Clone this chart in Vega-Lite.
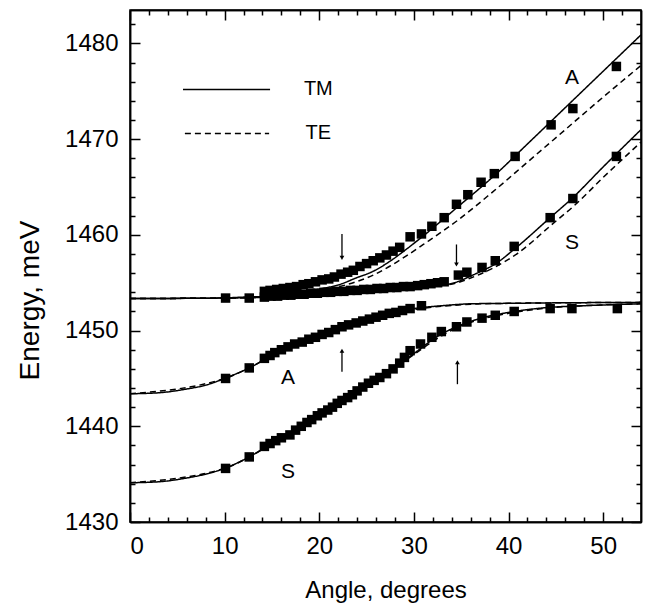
{
  "$schema": "https://vega.github.io/schema/vega-lite/v6.json",
  "width": 511,
  "height": 512,
  "autosize": "none",
  "padding": {"left": 130, "top": 10, "right": 8, "bottom": 88},
  "background": "white",
  "config": {
    "view": {"stroke": "black", "strokeWidth": 1.5},
    "axis": {
      "grid": false,
      "domainColor": "black",
      "domainWidth": 1.5,
      "tickColor": "black",
      "tickWidth": 1.5,
      "labelColor": "black",
      "labelFont": "Liberation Sans",
      "labelFontSize": 24,
      "titleFont": "Liberation Sans",
      "titleFontSize": 24,
      "titleFontWeight": "normal",
      "titleColor": "black"
    }
  },
  "datasets": {
    "pts": [
      {"branch": "upper", "angle": 10.1, "energy": 1453.4},
      {"branch": "upper", "angle": 12.6, "energy": 1453.4},
      {"branch": "UA", "angle": 14.2, "energy": 1454.1},
      {"branch": "UA", "angle": 14.8, "energy": 1454.2},
      {"branch": "UA", "angle": 15.5, "energy": 1454.3},
      {"branch": "UA", "angle": 16.2, "energy": 1454.4},
      {"branch": "UA", "angle": 16.9, "energy": 1454.5},
      {"branch": "UA", "angle": 17.6, "energy": 1454.6},
      {"branch": "UA", "angle": 18.3, "energy": 1454.8},
      {"branch": "UA", "angle": 18.9, "energy": 1454.9},
      {"branch": "UA", "angle": 19.6, "energy": 1455.1},
      {"branch": "UA", "angle": 20.3, "energy": 1455.3},
      {"branch": "UA", "angle": 21.0, "energy": 1455.4},
      {"branch": "UA", "angle": 21.6, "energy": 1455.6},
      {"branch": "UA", "angle": 22.3, "energy": 1455.9},
      {"branch": "UA", "angle": 23.0, "energy": 1456.1},
      {"branch": "UA", "angle": 23.6, "energy": 1456.3},
      {"branch": "UA", "angle": 24.3, "energy": 1456.7},
      {"branch": "UA", "angle": 25.0, "energy": 1457.0},
      {"branch": "UA", "angle": 25.7, "energy": 1457.3},
      {"branch": "UA", "angle": 26.4, "energy": 1457.6},
      {"branch": "UA", "angle": 27.1, "energy": 1457.9},
      {"branch": "UA", "angle": 27.8, "energy": 1458.3},
      {"branch": "UA", "angle": 28.5, "energy": 1458.7},
      {"branch": "UA", "angle": 29.6, "energy": 1459.8},
      {"branch": "UA", "angle": 30.8, "energy": 1460.1},
      {"branch": "UA", "angle": 31.9, "energy": 1460.9},
      {"branch": "UA", "angle": 33.2, "energy": 1461.8},
      {"branch": "UA", "angle": 34.5, "energy": 1463.2},
      {"branch": "UA", "angle": 35.7, "energy": 1464.2},
      {"branch": "UA", "angle": 37.1, "energy": 1465.5},
      {"branch": "UA", "angle": 38.5, "energy": 1466.4},
      {"branch": "UA", "angle": 40.7, "energy": 1468.2},
      {"branch": "UA", "angle": 44.5, "energy": 1471.5},
      {"branch": "UA", "angle": 46.8, "energy": 1473.2},
      {"branch": "UA", "angle": 51.4, "energy": 1477.6},
      {"branch": "US", "angle": 14.2, "energy": 1453.5},
      {"branch": "US", "angle": 14.9, "energy": 1453.6},
      {"branch": "US", "angle": 15.6, "energy": 1453.6},
      {"branch": "US", "angle": 16.3, "energy": 1453.7},
      {"branch": "US", "angle": 17.0, "energy": 1453.7},
      {"branch": "US", "angle": 17.7, "energy": 1453.8},
      {"branch": "US", "angle": 18.4, "energy": 1453.8},
      {"branch": "US", "angle": 19.1, "energy": 1453.9},
      {"branch": "US", "angle": 19.8, "energy": 1453.9},
      {"branch": "US", "angle": 20.5, "energy": 1454.0},
      {"branch": "US", "angle": 21.2, "energy": 1454.0},
      {"branch": "US", "angle": 21.9, "energy": 1454.1},
      {"branch": "US", "angle": 22.6, "energy": 1454.1},
      {"branch": "US", "angle": 23.3, "energy": 1454.2},
      {"branch": "US", "angle": 24.0, "energy": 1454.2},
      {"branch": "US", "angle": 24.7, "energy": 1454.3},
      {"branch": "US", "angle": 25.4, "energy": 1454.3},
      {"branch": "US", "angle": 26.1, "energy": 1454.4},
      {"branch": "US", "angle": 26.8, "energy": 1454.4},
      {"branch": "US", "angle": 27.5, "energy": 1454.5},
      {"branch": "US", "angle": 28.2, "energy": 1454.5},
      {"branch": "US", "angle": 28.9, "energy": 1454.6},
      {"branch": "US", "angle": 29.6, "energy": 1454.6},
      {"branch": "US", "angle": 30.4, "energy": 1454.7},
      {"branch": "US", "angle": 31.1, "energy": 1454.8},
      {"branch": "US", "angle": 31.8, "energy": 1454.9},
      {"branch": "US", "angle": 32.5, "energy": 1455.0},
      {"branch": "US", "angle": 33.2, "energy": 1455.1},
      {"branch": "US", "angle": 34.7, "energy": 1455.8},
      {"branch": "US", "angle": 35.6, "energy": 1456.1},
      {"branch": "US", "angle": 37.2, "energy": 1456.6},
      {"branch": "US", "angle": 38.6, "energy": 1457.3},
      {"branch": "US", "angle": 40.6, "energy": 1458.8},
      {"branch": "US", "angle": 44.4, "energy": 1461.8},
      {"branch": "US", "angle": 46.8, "energy": 1463.8},
      {"branch": "US", "angle": 51.4, "energy": 1468.2},
      {"branch": "LA", "angle": 10.1, "energy": 1445.0},
      {"branch": "LA", "angle": 12.6, "energy": 1446.1},
      {"branch": "LA", "angle": 14.2, "energy": 1447.1},
      {"branch": "LA", "angle": 14.8, "energy": 1447.4},
      {"branch": "LA", "angle": 15.3, "energy": 1447.7},
      {"branch": "LA", "angle": 16.0, "energy": 1448.0},
      {"branch": "LA", "angle": 16.7, "energy": 1448.3},
      {"branch": "LA", "angle": 17.4, "energy": 1448.6},
      {"branch": "LA", "angle": 18.2, "energy": 1448.8},
      {"branch": "LA", "angle": 18.9, "energy": 1449.1},
      {"branch": "LA", "angle": 19.6, "energy": 1449.3},
      {"branch": "LA", "angle": 20.3, "energy": 1449.6},
      {"branch": "LA", "angle": 21.0, "energy": 1449.8},
      {"branch": "LA", "angle": 21.7, "energy": 1450.1},
      {"branch": "LA", "angle": 22.4, "energy": 1450.4},
      {"branch": "LA", "angle": 23.1, "energy": 1450.6},
      {"branch": "LA", "angle": 23.9, "energy": 1450.8},
      {"branch": "LA", "angle": 24.6, "energy": 1451.0},
      {"branch": "LA", "angle": 25.3, "energy": 1451.2},
      {"branch": "LA", "angle": 26.0, "energy": 1451.4},
      {"branch": "LA", "angle": 26.7, "energy": 1451.6},
      {"branch": "LA", "angle": 27.4, "energy": 1451.8},
      {"branch": "LA", "angle": 28.1, "energy": 1451.9},
      {"branch": "LA", "angle": 28.8, "energy": 1452.1},
      {"branch": "LA", "angle": 29.6, "energy": 1452.3},
      {"branch": "LA", "angle": 30.8, "energy": 1452.6},
      {"branch": "LS", "angle": 10.1, "energy": 1435.6},
      {"branch": "LS", "angle": 12.6, "energy": 1436.8},
      {"branch": "LS", "angle": 14.2, "energy": 1437.9},
      {"branch": "LS", "angle": 14.8, "energy": 1438.2},
      {"branch": "LS", "angle": 15.4, "energy": 1438.5},
      {"branch": "LS", "angle": 16.0, "energy": 1438.8},
      {"branch": "LS", "angle": 16.9, "energy": 1439.1},
      {"branch": "LS", "angle": 17.5, "energy": 1439.6},
      {"branch": "LS", "angle": 18.1, "energy": 1440.0},
      {"branch": "LS", "angle": 18.7, "energy": 1440.4},
      {"branch": "LS", "angle": 19.2, "energy": 1440.7},
      {"branch": "LS", "angle": 19.8, "energy": 1441.1},
      {"branch": "LS", "angle": 20.3, "energy": 1441.4},
      {"branch": "LS", "angle": 20.9, "energy": 1441.7},
      {"branch": "LS", "angle": 21.4, "energy": 1442.0},
      {"branch": "LS", "angle": 21.9, "energy": 1442.4},
      {"branch": "LS", "angle": 22.4, "energy": 1442.7},
      {"branch": "LS", "angle": 23.0, "energy": 1443.0},
      {"branch": "LS", "angle": 23.5, "energy": 1443.3},
      {"branch": "LS", "angle": 24.0, "energy": 1443.7},
      {"branch": "LS", "angle": 24.6, "energy": 1444.1},
      {"branch": "LS", "angle": 25.2, "energy": 1444.5},
      {"branch": "LS", "angle": 25.8, "energy": 1444.8},
      {"branch": "LS", "angle": 26.4, "energy": 1445.1},
      {"branch": "LS", "angle": 27.1, "energy": 1445.5},
      {"branch": "LS", "angle": 27.8, "energy": 1446.0},
      {"branch": "LS", "angle": 28.5, "energy": 1446.6},
      {"branch": "LS", "angle": 29.0, "energy": 1447.2},
      {"branch": "LS", "angle": 29.6, "energy": 1447.9},
      {"branch": "LS", "angle": 30.7, "energy": 1448.6},
      {"branch": "LS", "angle": 31.9, "energy": 1449.3},
      {"branch": "LS", "angle": 32.9, "energy": 1449.9},
      {"branch": "LS", "angle": 34.5, "energy": 1450.4},
      {"branch": "LS", "angle": 35.6, "energy": 1450.9},
      {"branch": "LS", "angle": 37.2, "energy": 1451.3},
      {"branch": "LS", "angle": 38.6, "energy": 1451.6},
      {"branch": "LS", "angle": 40.6, "energy": 1452.0},
      {"branch": "LS", "angle": 44.4, "energy": 1452.3},
      {"branch": "LS", "angle": 46.7, "energy": 1452.3},
      {"branch": "LS", "angle": 51.5, "energy": 1452.3}
    ],
    "curves": [
      {"curve": "UA-TM", "pol": "TM", "angle": 0, "energy": 1453.35},
      {"curve": "UA-TM", "pol": "TM", "angle": 5, "energy": 1453.37},
      {"curve": "UA-TM", "pol": "TM", "angle": 9.6, "energy": 1453.4},
      {"curve": "UA-TM", "pol": "TM", "angle": 12, "energy": 1453.5},
      {"curve": "UA-TM", "pol": "TM", "angle": 15, "energy": 1453.6},
      {"curve": "UA-TM", "pol": "TM", "angle": 18.5, "energy": 1454.1},
      {"curve": "UA-TM", "pol": "TM", "angle": 20.3, "energy": 1454.4},
      {"curve": "UA-TM", "pol": "TM", "angle": 22.1, "energy": 1454.8},
      {"curve": "UA-TM", "pol": "TM", "angle": 23.9, "energy": 1455.5},
      {"curve": "UA-TM", "pol": "TM", "angle": 25.7, "energy": 1456.2},
      {"curve": "UA-TM", "pol": "TM", "angle": 27.4, "energy": 1457.2},
      {"curve": "UA-TM", "pol": "TM", "angle": 29.2, "energy": 1458.5},
      {"curve": "UA-TM", "pol": "TM", "angle": 31.0, "energy": 1459.9},
      {"curve": "UA-TM", "pol": "TM", "angle": 34.6, "energy": 1462.9},
      {"curve": "UA-TM", "pol": "TM", "angle": 38.5, "energy": 1466.2},
      {"curve": "UA-TM", "pol": "TM", "angle": 42, "energy": 1469.5},
      {"curve": "UA-TM", "pol": "TM", "angle": 46, "energy": 1473.3},
      {"curve": "UA-TM", "pol": "TM", "angle": 50, "energy": 1477.1},
      {"curve": "UA-TM", "pol": "TM", "angle": 54, "energy": 1480.9},
      {"curve": "UA-TE", "pol": "TE", "angle": 0, "energy": 1453.35},
      {"curve": "UA-TE", "pol": "TE", "angle": 9.6, "energy": 1453.4},
      {"curve": "UA-TE", "pol": "TE", "angle": 15, "energy": 1453.55},
      {"curve": "UA-TE", "pol": "TE", "angle": 18.5, "energy": 1454.0},
      {"curve": "UA-TE", "pol": "TE", "angle": 20.3, "energy": 1454.3},
      {"curve": "UA-TE", "pol": "TE", "angle": 22.1, "energy": 1454.6},
      {"curve": "UA-TE", "pol": "TE", "angle": 23.9, "energy": 1455.1},
      {"curve": "UA-TE", "pol": "TE", "angle": 25.7, "energy": 1455.8},
      {"curve": "UA-TE", "pol": "TE", "angle": 27.4, "energy": 1456.7},
      {"curve": "UA-TE", "pol": "TE", "angle": 29.2, "energy": 1457.8},
      {"curve": "UA-TE", "pol": "TE", "angle": 31.0, "energy": 1459.0},
      {"curve": "UA-TE", "pol": "TE", "angle": 34.6, "energy": 1461.5},
      {"curve": "UA-TE", "pol": "TE", "angle": 38.1, "energy": 1464.3},
      {"curve": "UA-TE", "pol": "TE", "angle": 42, "energy": 1467.6},
      {"curve": "UA-TE", "pol": "TE", "angle": 46, "energy": 1471.0},
      {"curve": "UA-TE", "pol": "TE", "angle": 50, "energy": 1474.4},
      {"curve": "UA-TE", "pol": "TE", "angle": 54, "energy": 1477.7},
      {"curve": "US-TM", "pol": "TM", "angle": 0, "energy": 1453.35},
      {"curve": "US-TM", "pol": "TM", "angle": 10, "energy": 1453.4},
      {"curve": "US-TM", "pol": "TM", "angle": 15, "energy": 1453.5},
      {"curve": "US-TM", "pol": "TM", "angle": 20, "energy": 1453.7},
      {"curve": "US-TM", "pol": "TM", "angle": 23.9, "energy": 1453.9},
      {"curve": "US-TM", "pol": "TM", "angle": 29.2, "energy": 1454.3},
      {"curve": "US-TM", "pol": "TM", "angle": 32.1, "energy": 1454.6},
      {"curve": "US-TM", "pol": "TM", "angle": 34.6, "energy": 1455.1},
      {"curve": "US-TM", "pol": "TM", "angle": 36.0, "energy": 1455.7},
      {"curve": "US-TM", "pol": "TM", "angle": 37.1, "energy": 1456.2},
      {"curve": "US-TM", "pol": "TM", "angle": 38.5, "energy": 1456.9},
      {"curve": "US-TM", "pol": "TM", "angle": 40.6, "energy": 1458.5},
      {"curve": "US-TM", "pol": "TM", "angle": 44.4, "energy": 1461.8},
      {"curve": "US-TM", "pol": "TM", "angle": 46.8, "energy": 1463.9},
      {"curve": "US-TM", "pol": "TM", "angle": 50, "energy": 1467.1},
      {"curve": "US-TM", "pol": "TM", "angle": 54, "energy": 1471.0},
      {"curve": "US-TE", "pol": "TE", "angle": 0, "energy": 1453.35},
      {"curve": "US-TE", "pol": "TE", "angle": 10, "energy": 1453.4},
      {"curve": "US-TE", "pol": "TE", "angle": 15, "energy": 1453.5},
      {"curve": "US-TE", "pol": "TE", "angle": 20, "energy": 1453.7},
      {"curve": "US-TE", "pol": "TE", "angle": 23.9, "energy": 1453.9},
      {"curve": "US-TE", "pol": "TE", "angle": 29.2, "energy": 1454.3},
      {"curve": "US-TE", "pol": "TE", "angle": 32.1, "energy": 1454.6},
      {"curve": "US-TE", "pol": "TE", "angle": 34.6, "energy": 1455.0},
      {"curve": "US-TE", "pol": "TE", "angle": 36.0, "energy": 1455.5},
      {"curve": "US-TE", "pol": "TE", "angle": 38.1, "energy": 1456.4},
      {"curve": "US-TE", "pol": "TE", "angle": 41.0, "energy": 1458.1},
      {"curve": "US-TE", "pol": "TE", "angle": 44.6, "energy": 1461.1},
      {"curve": "US-TE", "pol": "TE", "angle": 47.1, "energy": 1463.2},
      {"curve": "US-TE", "pol": "TE", "angle": 50, "energy": 1466.0},
      {"curve": "US-TE", "pol": "TE", "angle": 54, "energy": 1469.7},
      {"curve": "LA-TM", "pol": "TM", "angle": 0, "energy": 1443.4},
      {"curve": "LA-TM", "pol": "TM", "angle": 3, "energy": 1443.5},
      {"curve": "LA-TM", "pol": "TM", "angle": 6, "energy": 1443.9},
      {"curve": "LA-TM", "pol": "TM", "angle": 8, "energy": 1444.3},
      {"curve": "LA-TM", "pol": "TM", "angle": 10, "energy": 1445.0},
      {"curve": "LA-TM", "pol": "TM", "angle": 12.6, "energy": 1446.1},
      {"curve": "LA-TM", "pol": "TM", "angle": 15, "energy": 1447.4},
      {"curve": "LA-TM", "pol": "TM", "angle": 17.5, "energy": 1448.5},
      {"curve": "LA-TM", "pol": "TM", "angle": 20, "energy": 1449.5},
      {"curve": "LA-TM", "pol": "TM", "angle": 22.5, "energy": 1450.4},
      {"curve": "LA-TM", "pol": "TM", "angle": 25, "energy": 1451.2},
      {"curve": "LA-TM", "pol": "TM", "angle": 27.5, "energy": 1451.8},
      {"curve": "LA-TM", "pol": "TM", "angle": 30, "energy": 1452.3},
      {"curve": "LA-TM", "pol": "TM", "angle": 33, "energy": 1452.6},
      {"curve": "LA-TM", "pol": "TM", "angle": 36, "energy": 1452.8},
      {"curve": "LA-TM", "pol": "TM", "angle": 40, "energy": 1452.85},
      {"curve": "LA-TM", "pol": "TM", "angle": 45, "energy": 1452.9},
      {"curve": "LA-TM", "pol": "TM", "angle": 54, "energy": 1452.95},
      {"curve": "LA-TE", "pol": "TE", "angle": 0, "energy": 1443.4},
      {"curve": "LA-TE", "pol": "TE", "angle": 10, "energy": 1445.0},
      {"curve": "LA-TE", "pol": "TE", "angle": 12.6, "energy": 1446.1},
      {"curve": "LA-TE", "pol": "TE", "angle": 15, "energy": 1447.4},
      {"curve": "LA-TE", "pol": "TE", "angle": 17.5, "energy": 1448.5},
      {"curve": "LA-TE", "pol": "TE", "angle": 20, "energy": 1449.5},
      {"curve": "LA-TE", "pol": "TE", "angle": 22.5, "energy": 1450.35},
      {"curve": "LA-TE", "pol": "TE", "angle": 25, "energy": 1451.1},
      {"curve": "LA-TE", "pol": "TE", "angle": 27.5, "energy": 1451.7},
      {"curve": "LA-TE", "pol": "TE", "angle": 30, "energy": 1452.2},
      {"curve": "LA-TE", "pol": "TE", "angle": 33, "energy": 1452.55},
      {"curve": "LA-TE", "pol": "TE", "angle": 36, "energy": 1452.75},
      {"curve": "LA-TE", "pol": "TE", "angle": 40, "energy": 1452.85},
      {"curve": "LA-TE", "pol": "TE", "angle": 45, "energy": 1452.9},
      {"curve": "LA-TE", "pol": "TE", "angle": 54, "energy": 1452.95},
      {"curve": "LS-TM", "pol": "TM", "angle": 0, "energy": 1434.1},
      {"curve": "LS-TM", "pol": "TM", "angle": 3, "energy": 1434.2},
      {"curve": "LS-TM", "pol": "TM", "angle": 6, "energy": 1434.6},
      {"curve": "LS-TM", "pol": "TM", "angle": 8, "energy": 1435.0},
      {"curve": "LS-TM", "pol": "TM", "angle": 10, "energy": 1435.6},
      {"curve": "LS-TM", "pol": "TM", "angle": 12.6, "energy": 1436.8},
      {"curve": "LS-TM", "pol": "TM", "angle": 15, "energy": 1438.2},
      {"curve": "LS-TM", "pol": "TM", "angle": 17.5, "energy": 1439.6},
      {"curve": "LS-TM", "pol": "TM", "angle": 20, "energy": 1441.2},
      {"curve": "LS-TM", "pol": "TM", "angle": 22.5, "energy": 1442.8},
      {"curve": "LS-TM", "pol": "TM", "angle": 25, "energy": 1444.3},
      {"curve": "LS-TM", "pol": "TM", "angle": 27.5, "energy": 1445.8},
      {"curve": "LS-TM", "pol": "TM", "angle": 30, "energy": 1447.6},
      {"curve": "LS-TM", "pol": "TM", "angle": 32.5, "energy": 1449.4},
      {"curve": "LS-TM", "pol": "TM", "angle": 35, "energy": 1450.6},
      {"curve": "LS-TM", "pol": "TM", "angle": 37.5, "energy": 1451.4},
      {"curve": "LS-TM", "pol": "TM", "angle": 40, "energy": 1451.9},
      {"curve": "LS-TM", "pol": "TM", "angle": 44, "energy": 1452.4},
      {"curve": "LS-TM", "pol": "TM", "angle": 48, "energy": 1452.6},
      {"curve": "LS-TM", "pol": "TM", "angle": 54, "energy": 1452.8},
      {"curve": "LS-TE", "pol": "TE", "angle": 0, "energy": 1434.1},
      {"curve": "LS-TE", "pol": "TE", "angle": 10, "energy": 1435.6},
      {"curve": "LS-TE", "pol": "TE", "angle": 12.6, "energy": 1436.8},
      {"curve": "LS-TE", "pol": "TE", "angle": 15, "energy": 1438.2},
      {"curve": "LS-TE", "pol": "TE", "angle": 17.5, "energy": 1439.6},
      {"curve": "LS-TE", "pol": "TE", "angle": 20, "energy": 1441.2},
      {"curve": "LS-TE", "pol": "TE", "angle": 22.5, "energy": 1442.8},
      {"curve": "LS-TE", "pol": "TE", "angle": 25, "energy": 1444.3},
      {"curve": "LS-TE", "pol": "TE", "angle": 27.5, "energy": 1445.8},
      {"curve": "LS-TE", "pol": "TE", "angle": 30, "energy": 1447.5},
      {"curve": "LS-TE", "pol": "TE", "angle": 32.5, "energy": 1449.2},
      {"curve": "LS-TE", "pol": "TE", "angle": 35, "energy": 1450.5},
      {"curve": "LS-TE", "pol": "TE", "angle": 37.5, "energy": 1451.3},
      {"curve": "LS-TE", "pol": "TE", "angle": 40, "energy": 1451.8},
      {"curve": "LS-TE", "pol": "TE", "angle": 44, "energy": 1452.35},
      {"curve": "LS-TE", "pol": "TE", "angle": 48, "energy": 1452.6},
      {"curve": "LS-TE", "pol": "TE", "angle": 54, "energy": 1452.8}
    ],
    "legend": [
      {"pol": "TM", "x1": 5.6, "x2": 14.8, "energy": 1475.2, "labelAngle": 19.9},
      {"pol": "TE", "x1": 5.8, "x2": 14.7, "energy": 1470.6, "labelAngle": 19.9}
    ],
    "arrows": [
      {"dir": "down", "angle": 22.4, "top": 1460.1, "bottom": 1457.6, "tip": 1457.6},
      {"dir": "down", "angle": 34.5, "top": 1459.0, "bottom": 1456.9, "tip": 1456.9},
      {"dir": "up", "angle": 22.4, "top": 1447.9, "bottom": 1445.7, "tip": 1447.9},
      {"dir": "up", "angle": 34.6, "top": 1446.7, "bottom": 1444.4, "tip": 1446.7}
    ],
    "labels": [
      {"label": "A", "angle": 46.7, "energy": 1476.4},
      {"label": "S", "angle": 46.7, "energy": 1459.2},
      {"label": "A", "angle": 16.7, "energy": 1445.0},
      {"label": "S", "angle": 16.7, "energy": 1435.2}
    ]
  },
  "resolve": {"axis": {"x": "independent", "y": "independent"}},
  "layer": [
    {
      "data": {"name": "curves"},
      "mark": {"type": "line", "color": "black", "strokeWidth": 1.5, "interpolate": "monotone", "clip": true},
      "encoding": {
        "x": {"field": "angle", "type": "quantitative", "scale": {"domain": [0, 54], "nice": false, "zero": false},
          "axis": {"orient": "bottom", "values": [0, 10, 20, 30, 40, 50], "tickSize": -10, "labelPadding": 22, "title": "Angle, degrees", "titlePadding": 20}},
        "y": {"field": "energy", "type": "quantitative", "scale": {"domain": [1430, 1483.5], "nice": false, "zero": false},
          "axis": {"orient": "left", "values": [1430, 1440, 1450, 1460, 1470, 1480], "format": "d", "tickSize": -10, "labelPadding": 22, "title": "Energy, meV", "titleFontSize": 28, "titleX": -100, "titleY": 290, "titleBaseline": "middle", "titleAlign": "center", "titleAngle": -90}},
        "detail": {"field": "curve"},
        "strokeDash": {"field": "pol", "type": "nominal", "scale": {"domain": ["TM", "TE"], "range": [[1, 0], [6, 4]]}, "legend": null}
      }
    },
    {
      "data": {"name": "pts"},
      "mark": {"type": "point", "shape": "square", "filled": true, "color": "black", "opacity": 1, "size": 90},
      "encoding": {
        "x": {"field": "angle", "type": "quantitative",
          "axis": {"orient": "bottom", "values": [2,4,6,8,12,14,16,18,22,24,26,28,32,34,36,38,42,44,46,48,52], "tickSize": -5, "labels": false, "title": null}},
        "y": {"field": "energy", "type": "quantitative",
          "axis": {"orient": "left", "values": [1432,1434,1436,1438,1442,1444,1446,1448,1452,1454,1456,1458,1462,1464,1466,1468,1472,1474,1476,1478,1482], "tickSize": -5, "labels": false, "title": null}}
      }
    },
    {
      "data": {"name": "legend"},
      "mark": {"type": "rule", "color": "black", "strokeWidth": 1.5},
      "encoding": {
        "x": {"field": "x1", "type": "quantitative",
          "axis": {"orient": "top", "values": [0, 10, 20, 30, 40, 50], "tickSize": -10, "labels": false, "title": null}},
        "x2": {"field": "x2"},
        "y": {"field": "energy", "type": "quantitative",
          "axis": {"orient": "right", "values": [1430, 1440, 1450, 1460, 1470, 1480], "tickSize": -10, "labels": false, "title": null}},
        "strokeDash": {"field": "pol", "type": "nominal", "legend": null}
      }
    },
    {
      "data": {"name": "arrows"},
      "mark": {"type": "rule", "color": "black", "strokeWidth": 1.3},
      "encoding": {
        "x": {"field": "angle", "type": "quantitative",
          "axis": {"orient": "top", "values": [2,4,6,8,12,14,16,18,22,24,26,28,32,34,36,38,42,44,46,48,52], "tickSize": -5, "labels": false, "title": null}},
        "y": {"field": "top", "type": "quantitative",
          "axis": {"orient": "right", "values": [1432,1434,1436,1438,1442,1444,1446,1448,1452,1454,1456,1458,1462,1464,1466,1468,1472,1474,1476,1478,1482], "tickSize": -5, "labels": false, "title": null}},
        "y2": {"field": "bottom"}
      }
    },
    {
      "data": {"name": "arrows"},
      "mark": {"type": "point", "filled": true, "color": "black", "opacity": 1, "size": 22},
      "encoding": {
        "x": {"field": "angle", "type": "quantitative", "axis": null},
        "y": {"field": "tip", "type": "quantitative", "axis": null},
        "shape": {"field": "dir", "type": "nominal", "scale": {"domain": ["down", "up"], "range": ["triangle-down", "triangle-up"]}, "legend": null}
      }
    },
    {
      "data": {"name": "labels"},
      "mark": {"type": "text", "font": "Liberation Sans", "fontSize": 21, "color": "black", "align": "center", "baseline": "middle"},
      "encoding": {
        "x": {"field": "angle", "type": "quantitative", "axis": null},
        "y": {"field": "energy", "type": "quantitative", "axis": null},
        "text": {"field": "label"}
      }
    },
    {
      "data": {"name": "legend"},
      "mark": {"type": "text", "font": "Liberation Sans", "fontSize": 20, "color": "black", "align": "center", "baseline": "middle"},
      "encoding": {
        "x": {"field": "labelAngle", "type": "quantitative", "axis": null},
        "y": {"field": "energy", "type": "quantitative", "axis": null},
        "text": {"field": "pol"}
      }
    }
  ]
}
